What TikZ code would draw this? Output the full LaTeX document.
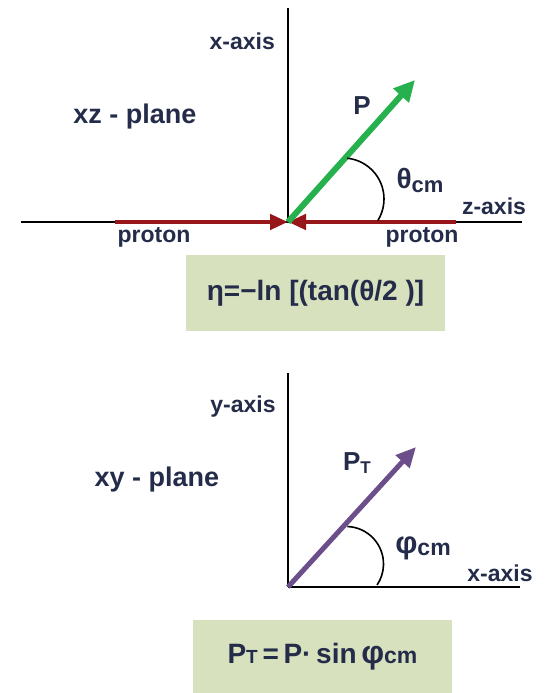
\documentclass[tikz,border=0pt]{standalone}
\usepackage{fontspec}
\setmainfont{Liberation Sans}
\usetikzlibrary{arrows.meta}
\definecolor{txt}{RGB}{36,44,74}
\definecolor{beamred}{RGB}{150,22,26}
\definecolor{pgreen}{RGB}{38,176,78}
\definecolor{ppurple}{RGB}{108,78,138}
\definecolor{boxgreen}{RGB}{215,225,190}
\begin{document}
\begin{tikzpicture}[x=1pt,y=1pt]
\useasboundingbox (0,0) rectangle (554,693);
\tikzstyle{lbl}=[text=txt, inner sep=0pt, font=\fontsize{23}{23}\selectfont\bfseries]
\tikzstyle{big}=[text=txt, inner sep=0pt, font=\fontsize{26}{26}\selectfont\bfseries]
\tikzstyle{plane}=[text=txt, inner sep=0pt, font=\fontsize{27}{27}\selectfont\bfseries]
\tikzstyle{axis}=[line width=1.2pt, black]
\tikzstyle{angarc}=[line width=1.6pt, black]
\tikzstyle{vec}=[line width=6pt, -{Triangle[length=21pt,width=20pt]}]
\tikzstyle{beam}=[line width=4.5pt, draw=beamred, -{Triangle[length=18pt,width=15pt,fill=beamred]}]
\tikzstyle{eqbox}=[fill=boxgreen, inner sep=0pt, minimum width=259pt, text=txt, font=\fontsize{28}{28}\selectfont\bfseries]
% xz - plane
\coordinate (O1) at (288,471);
\coordinate (x1) at (288,685);
\coordinate (zl) at (21,471);
\coordinate (zr) at (522,471);
\coordinate (p1) at (115,471);
\coordinate (p2) at (456,471);
\coordinate (P) at (415,613);
\coordinate (c1) at (343,494);
\draw[axis] (O1) -- (x1);
\draw[axis] (zl) -- (zr);
\draw[beam] (p1) -- (O1);
\draw[beam] (p2) -- (O1);
\draw[vec, draw=pgreen, fill=pgreen] (O1) -- (P);
\draw[angarc] (c1) ++(84:41) arc[start angle=84, end angle=-32, radius=41];
\node[lbl, anchor=east](xlbl) at (275,652){x-axis};
\node[plane](xz) at (135,576){xz - plane};
\node[big](Plbl) at (362,587){P};
\node[big, font=\fontsize{28}{28}\selectfont\bfseries](th) at (420,513){θ\raisebox{-4pt}{\fontsize{22}{22}\selectfont cm}};
\node[lbl](zlbl) at (494,487){z-axis};
\foreach \n/\x in {pr1/154,pr2/422}{\node[lbl](\n) at (\x,456){proton};}
\node[eqbox, minimum height=76pt](eta) at (315.5,400){η=−ln [(tan(θ/2 )]};
% xy - plane
\coordinate (O2) at (288,106);
\coordinate (y2) at (288,320);
\coordinate (x2) at (520,106);
\coordinate (PT) at (416,246);
\coordinate (c2) at (346,129);
\draw[axis] (O2) -- (y2);
\draw[axis] (O2) -- (x2);
\draw[vec, line width=5pt, draw=ppurple, fill=ppurple, -{Triangle[length=20pt,width=18pt]}] (O2) -- (PT);
\draw[angarc] (c2) ++(88:37.5) arc[start angle=88, end angle=-34, radius=37.5];
\node[lbl](ylbl) at (243,286){y-axis};
\node[plane](xy) at (157,213){xy - plane};
\node[big](PTlbl) at (357,230){P\raisebox{-3pt}{\fontsize{17}{17}\selectfont T}};
\node[big, font=\fontsize{31}{31}\selectfont\bfseries](ph) at (423,145){φ\raisebox{-2pt}{\fontsize{23}{23}\selectfont cm}};
\node[lbl](xlbl2) at (500,120){x-axis};
\node[eqbox, minimum height=73pt](ptf) at (322.5,36.5){P{\fontsize{19}{19}\selectfont T}\,=\,P·\,sin\,{\fontsize{32}{32}\selectfont φ}{\fontsize{23}{23}\selectfont cm}};
\end{tikzpicture}
\end{document}
